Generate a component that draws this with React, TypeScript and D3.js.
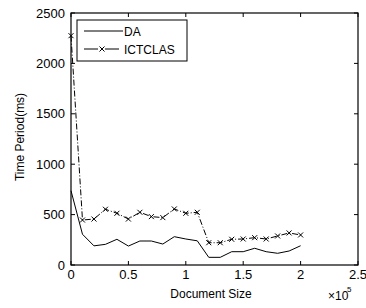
import React, { useEffect, useRef } from 'react';
import * as d3 from 'd3';

// document size (x 10^5)
const sizes = [0, 0.1, 0.2, 0.3, 0.4, 0.5, 0.6, 0.7, 0.8, 0.9, 1.0, 1.1, 1.2, 1.3, 1.4, 1.5, 1.6, 1.7, 1.8, 1.9, 2.0];
const daTimes = [737, 305, 190, 205, 255, 188, 238, 238, 208, 281, 258, 240, 76, 76, 132, 132, 166, 132, 116, 139, 191];
const ictclasTimes = [2275, 446, 456, 553, 513, 456, 523, 480, 470, 556, 513, 523, 221, 221, 255, 258, 271, 258, 288, 318, 298];
const xTicks = [0, 0.5, 1, 1.5, 2, 2.5];
const yTicks = [0, 500, 1000, 1500, 2000, 2500];
const seriesNames = ['DA', 'ICTCLAS'];

const App = () => {
  const svgRef = useRef<SVGSVGElement>(null);

  useEffect(() => {
    const svg = d3.select(svgRef.current);
    svg.selectAll('*').remove();
    const font = 'Liberation Sans, Arial, sans-serif';

    const x = d3.scaleLinear().domain([0, 2.5]).range([71, 358]);
    const y = d3.scaleLinear().domain([0, 2500]).range([265, 13]);

    const g = svg.append('g');

    // lines
    const line = d3.line<number>()
      .x((d, i) => x(sizes[i]))
      .y(d => y(d));

    g.append('path')
      .attr('d', line(daTimes))
      .attr('fill', 'none')
      .attr('stroke', '#000')
      .attr('stroke-width', 1);

    g.append('path')
      .attr('d', line(ictclasTimes))
      .attr('fill', 'none')
      .attr('stroke', '#000')
      .attr('stroke-width', 1)
      .attr('stroke-dasharray', '6,2,1,2');

    const cross = (sel, cx, cy) => {
      const s = 2.5;
      sel.append('path')
        .attr('d', `M${cx - s},${cy - s}L${cx + s},${cy + s}M${cx - s},${cy + s}L${cx + s},${cy - s}`)
        .attr('stroke', '#000')
        .attr('stroke-width', 1)
        .attr('fill', 'none');
    };
    ictclasTimes.forEach((v, i) => cross(g, x(sizes[i]), y(v)));

    // axes box
    g.append('rect')
      .attr('x', x(0)).attr('y', y(2500))
      .attr('width', x(2.5) - x(0)).attr('height', y(0) - y(2500))
      .attr('fill', 'none').attr('stroke', '#000').attr('stroke-width', 1.2);

    const tl = 4;
    xTicks.forEach(t => {
      g.append('line').attr('x1', x(t)).attr('x2', x(t)).attr('y1', y(0)).attr('y2', y(0) - tl).attr('stroke', '#000');
      g.append('line').attr('x1', x(t)).attr('x2', x(t)).attr('y1', y(2500)).attr('y2', y(2500) + tl).attr('stroke', '#000');
      g.append('text')
        .attr('x', x(t)).attr('y', 279)
        .attr('text-anchor', 'middle')
        .attr('font-family', font).attr('font-size', 13)
        .text(String(t));
    });
    yTicks.forEach(t => {
      g.append('line').attr('x1', x(0)).attr('x2', x(0) + tl).attr('y1', y(t)).attr('y2', y(t)).attr('stroke', '#000');
      g.append('line').attr('x1', x(2.5)).attr('x2', x(2.5) - tl).attr('y1', y(t)).attr('y2', y(t)).attr('stroke', '#000');
      g.append('text')
        .attr('x', 65).attr('y', y(t) + 4.5)
        .attr('text-anchor', 'end')
        .attr('font-family', font).attr('font-size', 13)
        .text(String(t));
    });

    // axis labels
    g.append('text')
      .attr('x', 211).attr('y', 298)
      .attr('text-anchor', 'middle')
      .attr('font-family', font).attr('font-size', 12)
      .text('Document Size');
    g.append('text')
      .attr('x', 328).attr('y', 300)
      .attr('font-family', font).attr('font-size', 12)
      .text('\u00d710');
    g.append('text')
      .attr('x', 347).attr('y', 292)
      .attr('font-family', font).attr('font-size', 8)
      .text('5');
    g.append('text')
      .attr('transform', 'translate(24,137) rotate(-90)')
      .attr('text-anchor', 'middle')
      .attr('font-family', font).attr('font-size', 12)
      .text('Time Period(ms)');

    // legend
    const lg = g.append('g');
    lg.append('rect')
      .attr('x', 77).attr('y', 20).attr('width', 110).attr('height', 41)
      .attr('fill', '#fff').attr('stroke', '#000').attr('stroke-width', 1);
    lg.append('line').attr('x1', 84).attr('x2', 123).attr('y1', 31).attr('y2', 31).attr('stroke', '#000');
    lg.append('line').attr('x1', 84).attr('x2', 123).attr('y1', 49).attr('y2', 49)
      .attr('stroke', '#000').attr('stroke-dasharray', '14,3,1,3,14');
    cross(lg, 102, 49);
    seriesNames.forEach((n, i) => {
      lg.append('text')
        .attr('x', 124).attr('y', 35.5 + i * 18)
        .attr('font-family', font).attr('font-size', 12)
        .text(n);
    });
  }, []);

  return (
    <svg ref={svgRef} width={366} height={308}
      style={{ position: 'fixed', left: 0, top: 0, background: '#fff' }} />
  );
};

export default App;
